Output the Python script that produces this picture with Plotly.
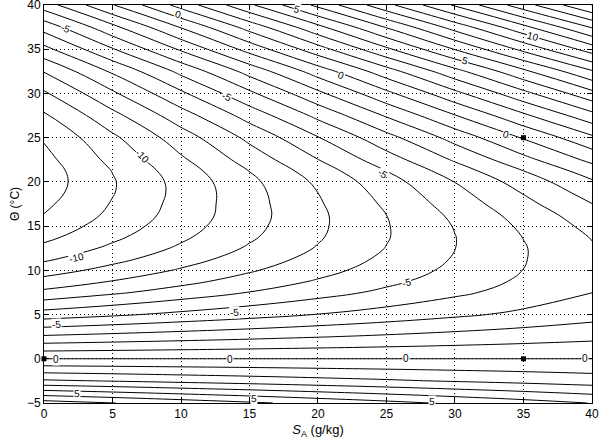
import plotly.graph_objects as go

# absolute salinity (g/kg) columns and Conservative Temperature (deg C) rows of the grid
sa_vals = [0, 5, 10, 15, 20, 25, 30, 35, 40]
theta_vals = [-5, -2.5, 0, 2.5, 5, 7.5, 8.75, 10, 11.25, 12.5, 13.75, 15,
              16.25, 17.5, 18.75, 20, 21.25, 22.5, 25, 27.5, 30, 32.5,
              35, 37.5, 40]

# field values, one row per theta value
error_grid = [
    [7.45, 7.02, 6.58, 6.15, 5.71, 5.28, 4.84, 4.41, 3.97],
    [3.15, 2.95, 2.74, 2.54, 2.33, 2.13, 1.92, 1.72, 1.51],
    [0.0, 0.0, 0.0, 0.0, 0.0, 0.0, 0.0, 0.0, 0.0],
    [-2.85, -2.65, -2.45, -2.25, -2.05, -1.85, -1.65, -1.45, -1.25],
    [-5.55, -5.16, -4.76, -4.37, -3.97, -3.58, -3.18, -2.79, -2.39],
    [-7.75, -7.16, -6.57, -5.97, -5.38, -4.79, -4.20, -3.60, -3.01],
    [-8.65, -7.96, -7.28, -6.59, -5.90, -5.22, -4.53, -3.84, -3.15],
    [-9.45, -8.67, -7.89, -7.11, -6.33, -5.55, -4.77, -3.99, -3.21],
    [-10.15, -9.28, -8.41, -7.53, -6.66, -5.79, -4.92, -4.05, -3.17],
    [-10.75, -9.79, -8.84, -7.88, -6.93, -5.97, -5.01, -4.06, -3.10],
    [-11.25, -10.21, -9.17, -8.14, -7.10, -6.06, -5.02, -3.98, -2.95],
    [-11.65, -10.53, -9.42, -8.30, -7.18, -6.06, -4.95, -3.83, -2.71],
    [-11.97, -10.78, -9.58, -8.39, -7.19, -6.00, -4.80, -3.61, -2.42],
    [-12.2, -10.93, -9.65, -8.38, -7.11, -5.84, -4.56, -3.29, -2.02],
    [-12.4, -11.05, -9.70, -8.35, -7.00, -5.65, -4.30, -2.95, -1.60],
    [-12.5, -11.08, -9.66, -8.24, -6.82, -5.40, -3.98, -2.56, -1.14],
    [-12.47, -10.97, -9.48, -7.98, -6.49, -4.99, -3.49, -2.00, -0.50],
    [-12.3, -10.73, -9.16, -7.59, -6.02, -4.45, -2.88, -1.31, 0.26],
    [-11.9, -10.19, -8.48, -6.76, -5.05, -3.34, -1.63, 0.09, 1.80],
    [-11.15, -9.30, -7.45, -5.60, -3.75, -1.90, -0.05, 1.80, 3.65],
    [-10.15, -8.17, -6.19, -4.21, -2.23, -0.25, 1.73, 3.71, 5.69],
    [-8.95, -6.85, -4.74, -2.64, -0.53, 1.57, 3.68, 5.78, 7.89],
    [-7.3, -5.08, -2.86, -0.63, 1.59, 3.81, 6.04, 8.26, 10.48],
    [-5.6, -3.27, -0.93, 1.40, 3.74, 6.07, 8.41, 10.74, 13.08],
    [-3.5, -1.06, 1.38, 3.82, 6.26, 8.70, 11.14, 13.58, 16.02],
]

# reference points marked on the plot
point_sa = [0, 35, 35]
point_theta = [0, 0, 25]

# contour labels (text, SA, theta, rotation in degrees)
label_text = ["0", "-5", "5", "10", "5", "0", "-5", "-10", "0", "-5",
              "-10", "-5", "-5", "-5", "0", "0", "0", "0", "5", "5", "5"]
label_sa = [9.8, 1.6, 18.5, 35.7, 30.7, 21.7, 13.3, 7.2, 33.75, 24.7,
            2.4, 26.45, 13.9, 0.9, 0.9, 13.6, 26.45, 39.5, 2.4, 15.3, 28.3]
label_theta = [38.9, 37.4, 39.5, 36.4, 33.7, 32.0, 29.6, 22.9, 25.4, 20.9,
               11.5, 8.65, 5.26, 3.9, -0.1, -0.1, 0.0, 0.0, -3.95, -4.5, -4.85]
label_angle = [18, 21, 17, 16, 16, 21, 25, 45, 19, 33,
               -13, -13, -4, -3, 0, 0, 0, 0, 1, 1, 1]

FONT = "Liberation Sans, Arial, Helvetica, sans-serif"

fig = go.Figure()

fig.add_trace(go.Contour(
    x=sa_vals,
    y=theta_vals,
    z=error_grid,
    contours=dict(start=-12, end=16, size=1, coloring="none", showlabels=False),
    line=dict(color="black", width=1, smoothing=1.2),
    showscale=False,
    hoverinfo="skip",
))

fig.add_trace(go.Scatter(
    x=point_sa,
    y=point_theta,
    mode="markers",
    marker=dict(symbol="square", size=5, color="black"),
    cliponaxis=False,
    showlegend=False,
))

for txt, sx, ty, ang in zip(label_text, label_sa, label_theta, label_angle):
    fig.add_annotation(
        x=sx, y=ty, xref="x", yref="y",
        text=txt, textangle=ang, showarrow=False,
        font=dict(family=FONT, size=10, color="black"),
        bgcolor="white", borderpad=0,
    )

axis_style = dict(
    showline=True, linecolor="black", linewidth=1, mirror="ticks",
    ticks="inside", ticklen=5, tickcolor="black",
    showgrid=True, gridcolor="black", gridwidth=1, griddash="1px,3px",
    zeroline=False, automargin=False, ticklabeloverflow="allow",
    tickfont=dict(family=FONT, size=12, color="black"),
)

fig.update_xaxes(
    range=[0, 40.001], tickvals=list(range(0, 41, 5)),
    title=dict(text="<i>S</i><sub>A</sub> (g/kg)", standoff=4,
               font=dict(family=FONT, size=13, color="black")),
    **axis_style,
)
fig.update_yaxes(
    range=[-5, 40.001], tickvals=list(range(-5, 41, 5)),
    title=dict(text="Θ (°C)", standoff=4,
               font=dict(family=FONT, size=12, color="black")),
    **axis_style,
)

fig.update_layout(
    width=600, height=448,
    margin=dict(l=44, r=8, t=5, b=45),
    paper_bgcolor="white", plot_bgcolor="white",
    showlegend=False,
)

# the page body has a default 8px margin; drop it so the figure sits at the corner
fig.write_html("out.html", config={"displayModeBar": False},
               post_script="document.body.style.margin='0';")
